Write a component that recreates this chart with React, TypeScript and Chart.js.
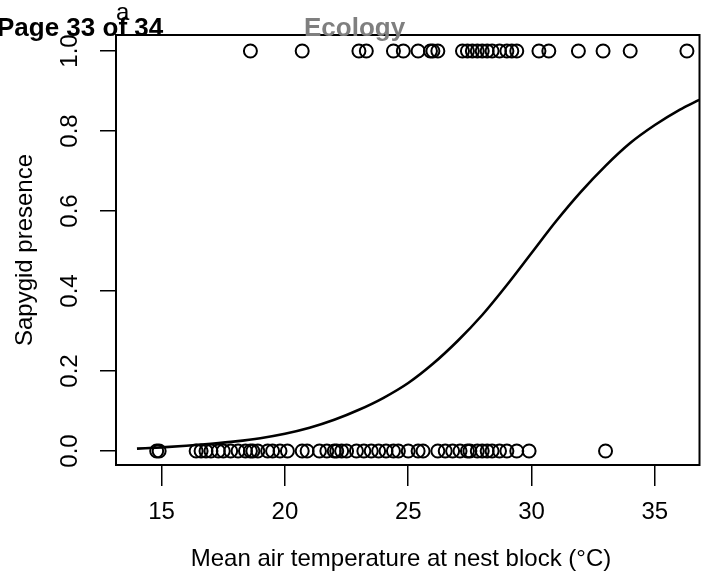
import React, { useEffect, useRef } from "react";
import { Chart, registerables } from "chart.js";

Chart.register(...registerables);

// Observations: nest blocks with sapygid present (y = 1)
const presentTemps = [18.6, 20.7, 23.0, 23.3, 24.4, 24.8, 25.4, 25.9, 26.0, 26.2, 27.2, 27.4, 27.6, 27.8, 28.0, 28.2, 28.4, 28.7, 29.0, 29.2, 29.4, 30.3, 30.7, 31.9, 32.9, 34.0, 36.3];
// Observations: nest blocks with sapygid absent (y = 0)
const absentTemps = [14.8, 14.9, 16.4, 16.6, 16.8, 17.0, 17.3, 17.5, 17.8, 18.1, 18.4, 18.6, 18.7, 18.9, 19.3, 19.5, 19.8, 20.1, 20.7, 20.9, 21.4, 21.7, 22.0, 22.1, 22.3, 22.5, 22.9, 23.2, 23.5, 23.8, 24.1, 24.4, 24.6, 25.0, 25.4, 25.6, 26.2, 26.5, 26.8, 27.1, 27.4, 27.5, 27.8, 28.0, 28.2, 28.4, 28.7, 29.0, 29.4, 29.9, 33.0];

// Fitted logistic curve
const curveTemps = [14, 15, 16, 17, 18, 19, 20, 21, 22, 23, 24, 25, 26, 27, 28, 29, 30, 31, 32, 33, 34, 35, 36, 36.8];
const curveProb = [0.006, 0.009, 0.013, 0.018, 0.024, 0.032, 0.043, 0.058, 0.078, 0.103, 0.133, 0.17, 0.218, 0.275, 0.34, 0.415, 0.495, 0.575, 0.648, 0.713, 0.77, 0.815, 0.853, 0.878];

const xTickValues = [15, 20, 25, 30, 35];
const yTickValues = [0, 0.2, 0.4, 0.6, 0.8, 1.0];

const FONT = '"Liberation Sans", Arial, Helvetica, sans-serif';

export default function App() {
  const ref = useRef<HTMLCanvasElement | null>(null);

  useEffect(() => {
    const canvas = ref.current;
    if (!canvas) return;

    const boxPlugin = {
      id: "rbox",
      afterDraw(chart: any) {
        const { ctx, chartArea } = chart;
        const ys = chart.scales.y;
        ctx.save();
        // plot frame
        ctx.strokeStyle = "#000";
        ctx.lineWidth = 2;
        ctx.strokeRect(chartArea.left, chartArea.top, chartArea.right - chartArea.left, chartArea.bottom - chartArea.top);
        // rotated y tick labels (R style)
        ctx.fillStyle = "#000";
        ctx.font = `24px ${FONT}`;
        ctx.textAlign = "center";
        ctx.textBaseline = "middle";
        ys.ticks.forEach((t: any) => {
          const py = ys.getPixelForValue(t.value);
          ctx.save();
          ctx.translate(70, py);
          ctx.rotate(-Math.PI / 2);
          ctx.fillText(Number(t.value).toFixed(1), 0, 0);
          ctx.restore();
        });
        // x axis title
        ctx.fillText("Mean air temperature at nest block (°C)", 401, 559);
        // page header overlay
        ctx.textAlign = "left";
        ctx.textBaseline = "alphabetic";
        ctx.font = `bold 26px ${FONT}`;
        ctx.fillStyle = "#000";
        ctx.fillText("Page 33 of 34", -3, 36);
        ctx.fillStyle = "#7f7f7f";
        ctx.fillText("Ecology", 304, 36);
        ctx.fillStyle = "#000";
        ctx.font = `24px ${FONT}`;
        ctx.fillText("a", 116, 20);
        ctx.restore();
      },
    };

    const pointStyle = {
      pointStyle: "circle",
      pointRadius: 6.5,
      borderColor: "#000",
      borderWidth: 2,
      backgroundColor: "rgba(0,0,0,0)",
    };

    const chart = new Chart(canvas, {
      type: "scatter",
      data: {
        datasets: [
          {
            type: "line",
            label: "fit",
            data: curveTemps.map((x, i) => ({ x, y: curveProb[i] })),
            borderColor: "#000",
            borderWidth: 2.6,
            pointRadius: 0,
            fill: false,
            cubicInterpolationMode: "monotone",
            clip: false,
          } as any,
          {
            label: "present",
            data: presentTemps.map((x) => ({ x, y: 1 })),
            ...pointStyle,
          } as any,
          {
            label: "absent",
            data: absentTemps.map((x) => ({ x, y: 0 })),
            ...pointStyle,
          } as any,
        ],
      },
      options: {
        animation: false,
        responsive: false,
        maintainAspectRatio: false,
        devicePixelRatio: 1,
        layout: { padding: { top: 35, right: 2, left: 0, bottom: 0 } },
        plugins: { legend: { display: false }, tooltip: { enabled: false } },
        scales: {
          x: {
            type: "linear",
            min: 13.15,
            max: 36.81,
            afterFit: (s: any) => {
              s.height = 114;
            },
            afterBuildTicks: (s: any) => {
              s.ticks = xTickValues.map((v) => ({ value: v }));
            },
            ticks: {
              color: "#000",
              font: { family: FONT, size: 24 },
              padding: 12,
              maxRotation: 0,
              callback: (v: any) => String(v),
            },
            grid: {
              display: true,
              drawOnChartArea: false,
              drawTicks: true,
              tickLength: 21,
              color: "#000",
              lineWidth: 1.5,
            },
            border: { display: false },
            title: { display: false },
          },
          y: {
            type: "linear",
            min: -0.035,
            max: 1.04,
            afterFit: (s: any) => {
              s.width = 116;
            },
            afterBuildTicks: (s: any) => {
              s.ticks = yTickValues.map((v) => ({ value: v }));
            },
            ticks: { display: false },
            grid: {
              display: true,
              drawOnChartArea: false,
              drawTicks: true,
              tickLength: 16,
              color: "#000",
              lineWidth: 1.5,
            },
            border: { display: false },
            title: {
              display: true,
              text: "Sapygid presence",
              color: "#000",
              font: { family: FONT, size: 24 },
              padding: { top: 11, bottom: 0 },
            },
          },
        },
      },
      plugins: [boxPlugin],
    });

    return () => chart.destroy();
  }, []);

  return (
    <div style={{ position: "fixed", left: 0, top: 0, width: 708, height: 579, background: "#fff" }}>
      <canvas ref={ref} width={708} height={579} style={{ width: 708, height: 579, display: "block" }} />
    </div>
  );
}
